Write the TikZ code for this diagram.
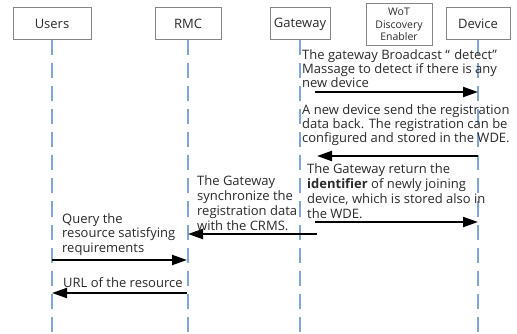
\documentclass[tikz,border=0pt]{standalone}
\usepackage{fontspec}
\setmainfont{Open Sans}
\usetikzlibrary{arrows.meta,calc}
\definecolor{txt}{HTML}{2A2A2A}
\definecolor{frame}{HTML}{858585}
\definecolor{life}{HTML}{7FA7DA}
\begin{document}
\begin{tikzpicture}[x=1pt,y=-1pt,
  actor/.style={draw=frame, line width=1pt, text=txt, inner sep=0pt,
    minimum height=32pt, font=\fontsize{13}{14}\selectfont},
  lifeline/.style={draw=life, line width=2pt, dash pattern=on 15pt off 8pt},
  msg/.style={draw=black, line width=2pt, -{Triangle[length=15pt,width=10pt]}},
  note/.style={text=txt, align=left, anchor=north west, inner sep=0pt,
    font=\fontsize{13}{14}\selectfont},
  wide/.style={font=\fontsize{13}{15}\selectfont},
]
\useasboundingbox (0,0) rectangle (517,334);

% participants
\node[actor, minimum width=78pt] (users) at (52,24) {Users};
\node[actor, minimum width=66pt] (rmc) at (188,24) {RMC};
\node[actor, minimum width=60pt] (gw) at (300,24) {Gateway};
\node[actor, minimum width=66pt, minimum height=42pt, align=center,
      font=\fontsize{10.5}{12.5}\selectfont] (wde) at (399,24.5) {WoT\\Discovery\\Enabler};
\node[actor, minimum width=64pt] (dev) at (478,24) {Device};

% lifelines
\coordinate (usersEnd) at (52,332);
\coordinate (rmcEnd) at (188,332);
\coordinate (gwEnd) at (300,332);
\coordinate (devEnd) at (478,332);
\draw[lifeline] (users.south) -- (usersEnd);
\draw[lifeline] (rmc.south) -- (rmcEnd);
\draw[lifeline] (gw.south) -- (gwEnd);
\draw[lifeline] (dev.south) -- (devEnd);

% message end points
\coordinate (m1a) at (315,92);  \coordinate (m1b) at (478,92);
\coordinate (m2a) at (478,156); \coordinate (m2b) at (317,156);
\coordinate (m3a) at (315,222); \coordinate (m3b) at (478,222);
\coordinate (m4a) at (317,234); \coordinate (m4b) at (188,234);
\coordinate (m5a) at (52,260);  \coordinate (m5b) at (187,260);
\coordinate (m6a) at (187,293); \coordinate (m6b) at (52,293);

\draw[msg] (m1a) -- (m1b);
\draw[msg] (m2a) -- (m2b);
\draw[msg] (m3a) -- (m3b);
\draw[msg] (m4a) -- (m4b);
\draw[msg] (m5a) -- (m5b);
\draw[msg] (m6a) -- (m6b);

% message texts
\node[note] (t1) at (302,49) {The gateway Broadcast “\,\,detect”\\Massage to detect if there is any\\new device};
\node[note] (t2) at (302,104) {A new device send the registration\\data back. The registration can be\\configured and stored in the WDE.};
\node[note, wide] (t3) at (307,163.5) {The Gateway return the\\\textbf{identifier} of newly joining\\device, which is stored also in\\the WDE.};
\node[note, wide] (t4) at (197,175) {The Gateway\\synchronize the\\registration data\\with the CRMS.};
\node[note, font=\fontsize{13}{14.5}\selectfont] (t5) at (62,213) {Query the\\resource satisfying\\requirements};
\node[note] (t6) at (63,277) {URL of the resource};
\end{tikzpicture}
\end{document}
